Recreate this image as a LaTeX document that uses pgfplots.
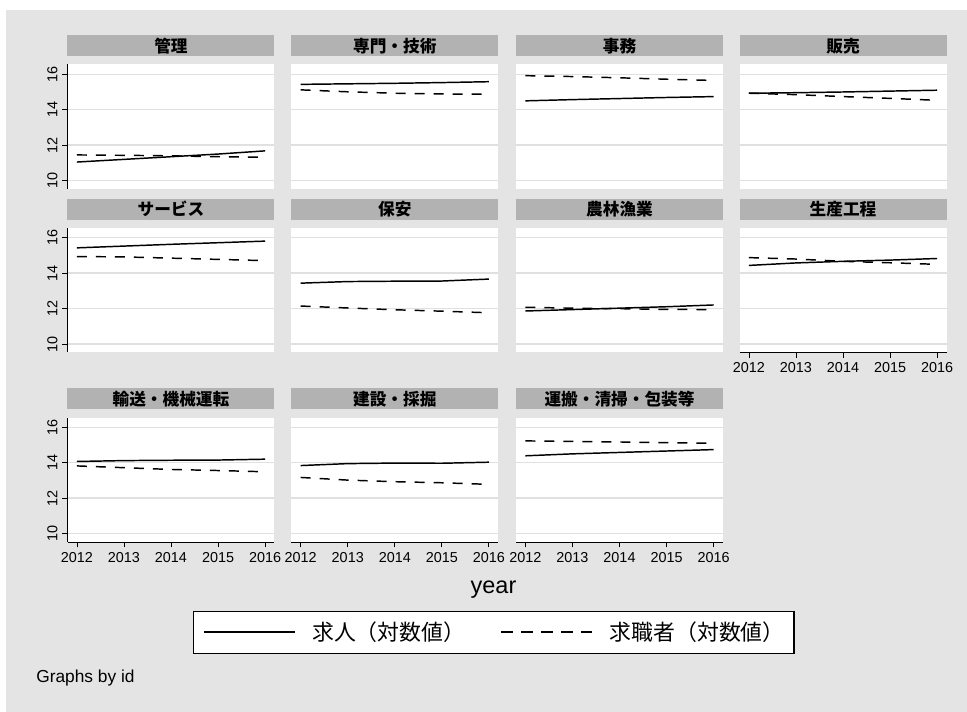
\documentclass[border=0pt]{standalone}
\usepackage{pgfplots}
\pgfplotsset{compat=1.18}
\usepackage{fontspec}
\setmainfont{Liberation Sans}
\newfontfamily\jp{Noto Sans CJK JP}
\definecolor{bg}{HTML}{E4E4E4}
\definecolor{bar}{HTML}{B2B2B2}
\definecolor{gridc}{HTML}{E0E0E0}
\pgfplotsset{
  panel/.style={
    scale only axis, width=155.25pt, height=93.375pt,
    anchor=south west,
    xmin=2011.8, xmax=2016.2, ymin=9.53, ymax=16.55,
    axis background/.style={fill=white},
    axis line style={draw=none},
    xtick=\empty, ytick={10,12,14,16},
    xtick pos=bottom, ytick pos=left, tick align=outside,
    major tick length=4pt,
    yticklabels={},
    ytick style={draw=none},
    ymajorgrids, grid style={color=gridc, line width=1.1pt},
    title style={fill=bar, minimum width=155.25pt, minimum height=15.75pt,
      inner sep=0pt, anchor=south, at={(0.5,1)}, yshift=0pt,
      font=\jp\bfseries\fontsize{12.5}{12.5}\selectfont},
    tick label style={font=\fontsize{10.8}{12}\selectfont},
  },
  yax/.style={
    yticklabels={10,12,14,16},
    ytick style={draw=black, line width=0.6pt},
    yticklabel style={rotate=90, anchor=south},
    after end axis/.append code={\draw[black, line width=0.6pt] (rel axis cs:0,0) -- (rel axis cs:0,1);},
  },
  xax/.style={
    xtick={2012,2013,2014,2015,2016},
    xticklabels={2012,2013,2014,2015,2016},
    xtick style={draw=black, line width=0.6pt},
    after end axis/.append code={\draw[black, line width=0.6pt] (rel axis cs:0,0) -- (rel axis cs:1,0);},
  },
  s/.style={black, line width=1.1pt},
  d/.style={black, line width=1.1pt, dash pattern=on 7.5pt off 6.75pt},
}
\begin{document}
\begin{tikzpicture}
\fill[white] (0,0) rectangle (725.25pt,-534pt);
\fill[bg] (4.5pt,-7.5pt) rectangle (725.25pt,-534pt);

% Row 1
\begin{axis}[panel, yax, at={(50.625pt,-141.75pt)}, title={管理}]
\addplot[s] coordinates {(2012,11.05) (2013,11.20) (2014,11.35) (2015,11.50) (2016,11.68)};
\addplot[d] coordinates {(2012,11.45) (2013,11.43) (2014,11.40) (2015,11.35) (2016,11.32)};
\end{axis}
\begin{axis}[panel, at={(218.475pt,-141.75pt)}, title={専門・技術}]
\addplot[s] coordinates {(2012,15.43) (2013,15.46) (2014,15.49) (2015,15.53) (2016,15.58)};
\addplot[d] coordinates {(2012,15.12) (2013,15.01) (2014,14.93) (2015,14.89) (2016,14.87)};
\end{axis}
\begin{axis}[panel, at={(387pt,-141.75pt)}, title={事務}]
\addplot[s] coordinates {(2012,14.50) (2013,14.57) (2014,14.63) (2015,14.69) (2016,14.74)};
\addplot[d] coordinates {(2012,15.92) (2013,15.87) (2014,15.80) (2015,15.72) (2016,15.65)};
\end{axis}
\begin{axis}[panel, at={(554.625pt,-141.75pt)}, title={販売}]
\addplot[s] coordinates {(2012,14.93) (2013,14.96) (2014,15.00) (2015,15.05) (2016,15.10)};
\addplot[d] coordinates {(2012,14.93) (2013,14.85) (2014,14.74) (2015,14.64) (2016,14.53)};
\end{axis}

% Row 2
\begin{axis}[panel, yax, at={(50.625pt,-264.375pt)}, title={サービス}]
\addplot[s] coordinates {(2012,15.43) (2013,15.53) (2014,15.63) (2015,15.72) (2016,15.81)};
\addplot[d] coordinates {(2012,14.94) (2013,14.92) (2014,14.85) (2015,14.78) (2016,14.71)};
\end{axis}
\begin{axis}[panel, at={(218.475pt,-264.375pt)}, title={保安}]
\addplot[s] coordinates {(2012,13.44) (2013,13.53) (2014,13.55) (2015,13.56) (2016,13.67)};
\addplot[d] coordinates {(2012,12.15) (2013,12.04) (2014,11.94) (2015,11.86) (2016,11.77)};
\end{axis}
\begin{axis}[panel, at={(387pt,-264.375pt)}, title={農林漁業}]
\addplot[s] coordinates {(2012,11.87) (2013,11.95) (2014,12.03) (2015,12.11) (2016,12.21)};
\addplot[d] coordinates {(2012,12.08) (2013,12.03) (2014,12.00) (2015,11.96) (2016,11.95)};
\end{axis}
\begin{axis}[panel, xax, at={(554.625pt,-264.375pt)}, title={生産工程}]
\addplot[s] coordinates {(2012,14.44) (2013,14.58) (2014,14.67) (2015,14.74) (2016,14.83)};
\addplot[d] coordinates {(2012,14.88) (2013,14.80) (2014,14.67) (2015,14.59) (2016,14.50)};
\end{axis}

% Row 3
\begin{axis}[panel, yax, xax, at={(50.625pt,-406.5pt)}, title={輸送・機械運転}]
\addplot[s] coordinates {(2012,14.07) (2013,14.12) (2014,14.14) (2015,14.15) (2016,14.20)};
\addplot[d] coordinates {(2012,13.82) (2013,13.72) (2014,13.62) (2015,13.56) (2016,13.49)};
\end{axis}
\begin{axis}[panel, xax, at={(218.475pt,-406.5pt)}, title={建設・採掘},
  xlabel={year},
  xlabel style={at={(0.977,-0.3855)}, anchor=center, font=\fontsize{17.6}{18}\selectfont},
  legend columns=2,
  legend image code/.code={\draw[#1] (0pt,0pt) -- (68.25pt,0pt);},
  legend style={at={(0.978,-0.7245)}, anchor=center, draw=black, line width=1pt,
    fill=white, inner xsep=7pt, inner ysep=8pt,
    nodes={inner sep=0pt, anchor=west, font=\jp\fontsize{16.4}{16.4}\selectfont},
    /tikz/every odd column/.append style={column sep=12.75pt},
    /tikz/every even column/.append style={column sep=26.25pt}},
]
\addlegendimage{black, line width=1.1pt}
\addlegendentry{求人（対数値）}
\addlegendimage{black, line width=1.1pt, dash pattern=on 9pt off 6pt}
\addlegendentry{求職者（対数値）}
\addplot[s, forget plot] coordinates {(2012,13.84) (2013,13.95) (2014,13.98) (2015,13.97) (2016,14.03)};
\addplot[d, forget plot] coordinates {(2012,13.17) (2013,13.02) (2014,12.93) (2015,12.87) (2016,12.78)};
\end{axis}
\begin{axis}[panel, xax, at={(387pt,-406.5pt)}, title={運搬・清掃・包装等}]
\addplot[s] coordinates {(2012,14.39) (2013,14.50) (2014,14.58) (2015,14.66) (2016,14.74)};
\addplot[d] coordinates {(2012,15.23) (2013,15.20) (2014,15.17) (2015,15.13) (2016,15.10)};
\end{axis}

\node[anchor=west, font=\fontsize{13}{14}\selectfont, inner sep=0pt] at (27pt,-508.5pt) {Graphs by id};
\end{tikzpicture}
\end{document}
